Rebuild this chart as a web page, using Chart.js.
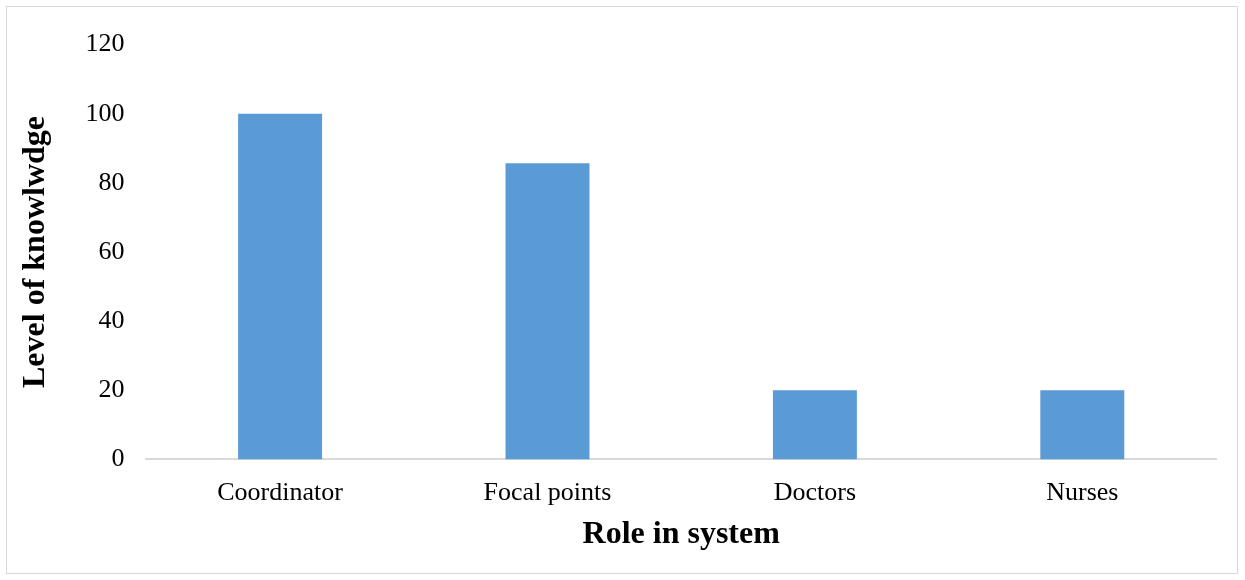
<!DOCTYPE html>
<html>
<head>
<meta charset="utf-8">
<script src="https://cdn.jsdelivr.net/npm/chart.js@4/dist/chart.umd.min.js"></script>
<style>
  html, body { margin: 0; padding: 0; background: #fff; }
  #wrap {
    position: absolute; left: 6px; top: 6px;
    width: 1232px; height: 568px;
    border: 1.5px solid #d9d9d9; box-sizing: border-box;
  }
  #chart { display: block; }
</style>
</head>
<body>
<div id="wrap"><canvas id="chart" width="1229" height="565"></canvas></div>
<script>
  // data
  const roles = ['Coordinator', 'Focal points', 'Doctors', 'Nurses'];
  const knowledge = [100, 85.7, 20, 20];
  const yTicks = [0, 20, 40, 60, 80, 100, 120];

  const serif = '"Liberation Serif", "Times New Roman", serif';

  const ctx = document.getElementById('chart').getContext('2d');
  new Chart(ctx, {
    type: 'bar',
    data: {
      labels: roles,
      datasets: [{
        label: 'Level of knowlwdge',
        data: knowledge,
        backgroundColor: '#5b9bd5',
        barPercentage: 0.314,
        categoryPercentage: 1,
      }]
    },
    options: {
      responsive: false,
      animation: false,
      devicePixelRatio: 1,
      // autoPadding off, otherwise the y tick padding pushes the top down
      layout: { autoPadding: false, padding: { left: 6, right: 20, top: 22, bottom: 14 } },
      plugins: { legend: { display: false }, tooltip: { enabled: false } },
      scales: {
        x: {
          grid: { display: false, drawTicks: false },
          border: { color: '#d9d9d9', width: 2 },
          ticks: { color: '#000', font: { family: serif, size: 26 }, padding: 18 },
          title: {
            display: true, text: 'Role in system', color: '#000',
            font: { family: serif, size: 32, weight: 'bold' }, padding: { top: -11 }
          }
        },
        y: {
          min: 0, max: 120,
          afterBuildTicks: axis => { axis.ticks = yTicks.map(v => ({ value: v })) },
          grid: { display: false, drawTicks: false },
          border: { display: false },
          ticks: { color: '#000', font: { family: serif, size: 26 }, padding: 22 },
          title: {
            display: true, text: 'Level of knowlwdge', color: '#000',
            font: { family: serif, size: 32, weight: 'bold' }, padding: { bottom: 8 }
          }
        }
      }
    }
  });
</script>
</body>
</html>
